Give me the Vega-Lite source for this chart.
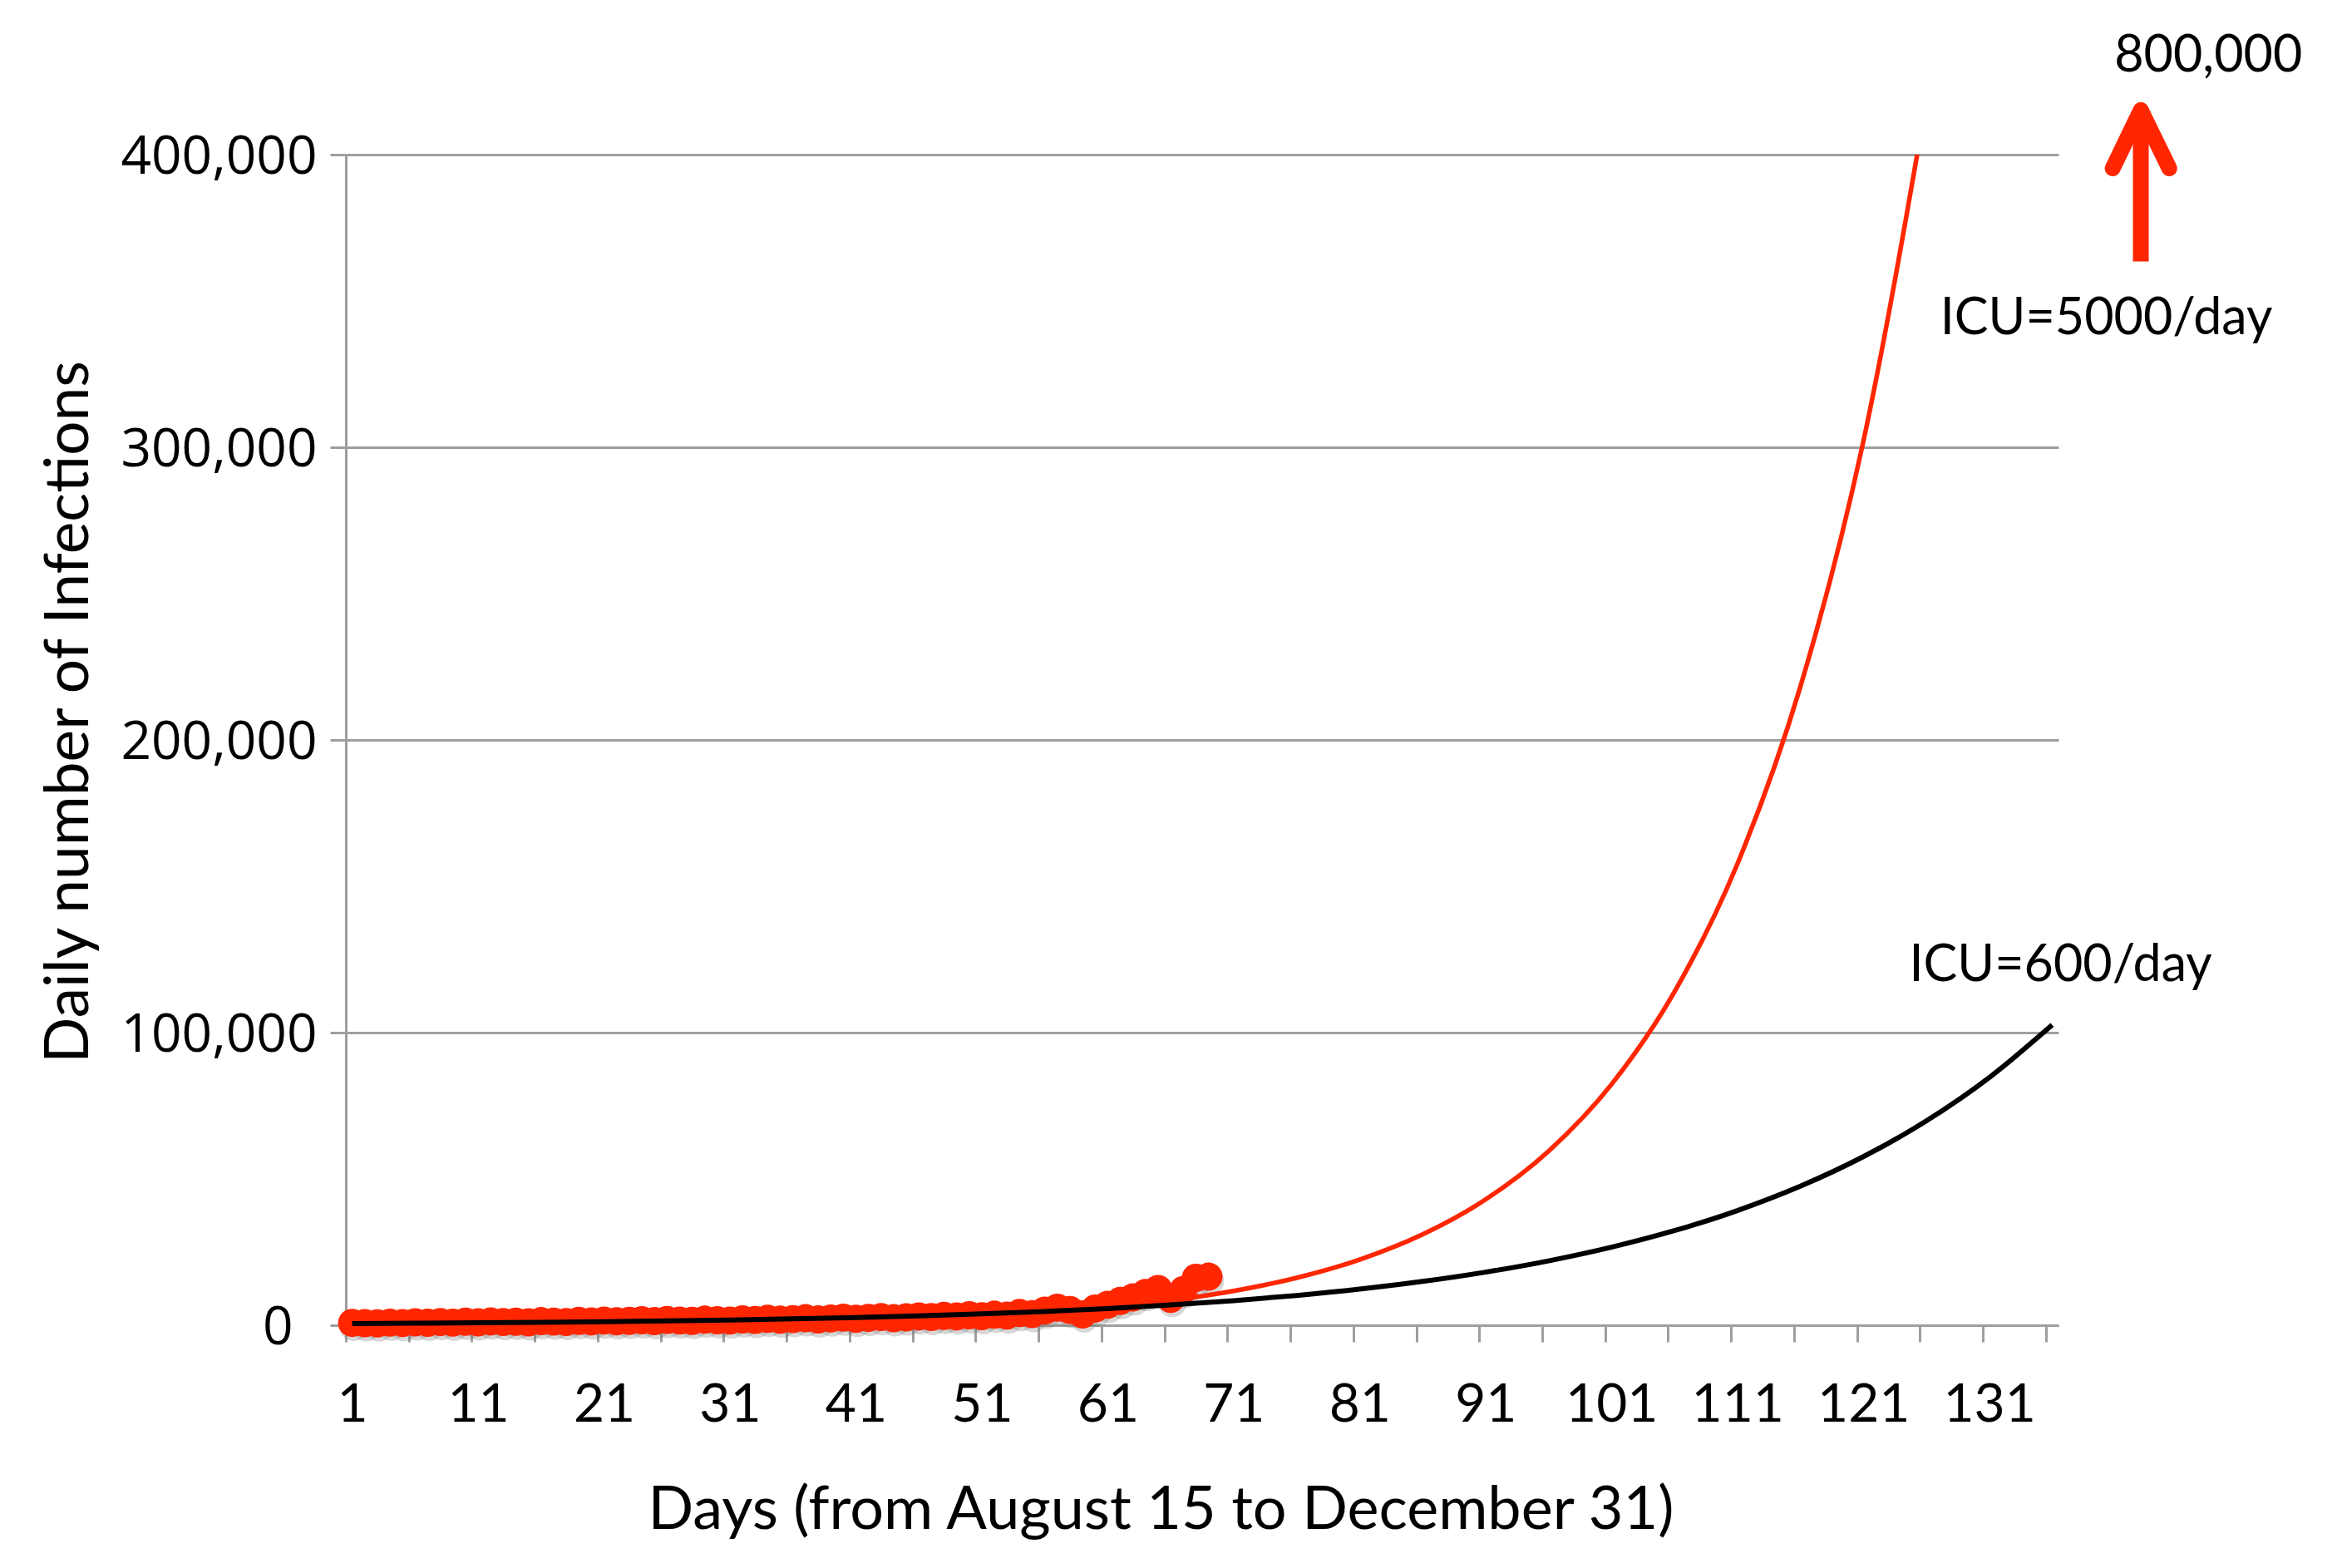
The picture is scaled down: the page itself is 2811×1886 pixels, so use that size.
{
  "$schema": "https://vega.github.io/schema/vega-lite/v6.json",
  "width": 2060,
  "height": 1408,
  "autosize": {"type": "none"},
  "padding": {"left": 416, "top": 186, "right": 335, "bottom": 292},
  "background": "white",
  "config": {"view": {"stroke": null}},
  "datasets": {
    "observed": [
      {"day": 1, "infections": 800}, {"day": 2, "infections": 700}, {"day": 3, "infections": 650},
      {"day": 4, "infections": 900}, {"day": 5, "infections": 750}, {"day": 6, "infections": 1000},
      {"day": 7, "infections": 850}, {"day": 8, "infections": 1100}, {"day": 9, "infections": 900},
      {"day": 10, "infections": 1200}, {"day": 11, "infections": 1000}, {"day": 12, "infections": 1300},
      {"day": 13, "infections": 1100}, {"day": 14, "infections": 1200}, {"day": 15, "infections": 1000},
      {"day": 16, "infections": 1400}, {"day": 17, "infections": 1250}, {"day": 18, "infections": 1100},
      {"day": 19, "infections": 1500}, {"day": 20, "infections": 1300}, {"day": 21, "infections": 1600},
      {"day": 22, "infections": 1350}, {"day": 23, "infections": 1500}, {"day": 24, "infections": 1700},
      {"day": 25, "infections": 1400}, {"day": 26, "infections": 1800}, {"day": 27, "infections": 1600},
      {"day": 28, "infections": 1500}, {"day": 29, "infections": 1900}, {"day": 30, "infections": 1700},
      {"day": 31, "infections": 1600}, {"day": 32, "infections": 2000}, {"day": 33, "infections": 1800},
      {"day": 34, "infections": 2200}, {"day": 35, "infections": 1900}, {"day": 36, "infections": 2100},
      {"day": 37, "infections": 2400}, {"day": 38, "infections": 2000}, {"day": 39, "infections": 2300},
      {"day": 40, "infections": 2600}, {"day": 41, "infections": 2200}, {"day": 42, "infections": 2500},
      {"day": 43, "infections": 2800}, {"day": 44, "infections": 2400}, {"day": 45, "infections": 2700},
      {"day": 46, "infections": 3000}, {"day": 47, "infections": 2800}, {"day": 48, "infections": 3200},
      {"day": 49, "infections": 3000}, {"day": 50, "infections": 3400}, {"day": 51, "infections": 3100},
      {"day": 52, "infections": 3600}, {"day": 53, "infections": 3300}, {"day": 54, "infections": 4200},
      {"day": 55, "infections": 3800}, {"day": 56, "infections": 5000}, {"day": 57, "infections": 6000},
      {"day": 58, "infections": 5200}, {"day": 59, "infections": 3700}, {"day": 60, "infections": 5700},
      {"day": 61, "infections": 7000}, {"day": 62, "infections": 8300}, {"day": 63, "infections": 9500},
      {"day": 64, "infections": 11000}, {"day": 65, "infections": 12400}, {"day": 66, "infections": 9000},
      {"day": 67, "infections": 12000}, {"day": 68, "infections": 16200}, {"day": 69, "infections": 16600}
    ],
    "icu5000": [
      {"day": 1, "infections": 124}, {"day": 6, "infections": 171}, {"day": 11, "infections": 237},
      {"day": 16, "infections": 328}, {"day": 21, "infections": 454}, {"day": 26, "infections": 628},
      {"day": 31, "infections": 870}, {"day": 36, "infections": 1203}, {"day": 41, "infections": 1665},
      {"day": 46, "infections": 2305}, {"day": 51, "infections": 3191}, {"day": 56, "infections": 4416},
      {"day": 61, "infections": 6111}, {"day": 66, "infections": 8459}, {"day": 71, "infections": 11707},
      {"day": 76, "infections": 16203}, {"day": 81, "infections": 22426}, {"day": 86, "infections": 31037},
      {"day": 91, "infections": 42956}, {"day": 96, "infections": 59452}, {"day": 101, "infections": 82284},
      {"day": 106, "infections": 113883}, {"day": 111, "infections": 157617}, {"day": 116, "infections": 218147},
      {"day": 121, "infections": 301921}, {"day": 126, "infections": 417870}
    ],
    "icu600": [
      {"day": 1, "infections": 567}, {"day": 6, "infections": 688}, {"day": 11, "infections": 834},
      {"day": 16, "infections": 1011}, {"day": 21, "infections": 1225}, {"day": 26, "infections": 1485},
      {"day": 31, "infections": 1801}, {"day": 36, "infections": 2183}, {"day": 41, "infections": 2647},
      {"day": 46, "infections": 3208}, {"day": 51, "infections": 3889}, {"day": 56, "infections": 4715},
      {"day": 61, "infections": 5716}, {"day": 66, "infections": 6929}, {"day": 71, "infections": 8399},
      {"day": 76, "infections": 10184}, {"day": 81, "infections": 12344}, {"day": 86, "infections": 14965},
      {"day": 91, "infections": 18144}, {"day": 96, "infections": 21995}, {"day": 101, "infections": 26665},
      {"day": 106, "infections": 32325}, {"day": 111, "infections": 39188}, {"day": 116, "infections": 47505},
      {"day": 121, "infections": 57589}, {"day": 126, "infections": 69814}, {"day": 131, "infections": 84634},
      {"day": 136, "infections": 102600}
    ],
    "labels": [
      {"day": 148.4, "infections": 428300, "label": "800,000"},
      {"day": 140.3, "infections": 338700, "label": "ICU=5000/day"},
      {"day": 136.67, "infections": 117600, "label": "ICU=600/day"}
    ],
    "arrowShaft": [
      {"day": 143.04, "infections": 363500, "day2": 143.04, "infections2": 412000}
    ],
    "arrowHead": [
      {"day": 143.04, "infections": 415200, "day2": 140.8, "infections2": 395300},
      {"day": 143.04, "infections": 415200, "day2": 145.3, "infections2": 395300}
    ]
  },
  "encoding": {
    "x": {
      "field": "day",
      "type": "quantitative",
      "scale": {"domain": [0.5, 136.5], "nice": false, "zero": false},
      "axis": {
        "values": [0.5, 1, 5.5, 10.5, 11, 15.5, 20.5, 21, 25.5, 30.5, 31, 35.5, 40.5, 41, 45.5, 50.5, 51, 55.5, 60.5, 61, 65.5, 70.5, 71, 75.5, 80.5, 81, 85.5, 90.5, 91, 95.5, 100.5, 101, 105.5, 110.5, 111, 115.5, 120.5, 121, 125.5, 130.5, 131, 135.5],
        "format": "d",
        "labelExpr": "datum.value % 1 == 0 ? datum.label : ''",
        "tickOpacity": {"condition": {"test": "datum.value % 1 == 0", "value": 0}, "value": 1},
        "labelFont": "Lato",
        "labelFontSize": 64,
        "labelColor": "#000000",
        "labelPadding": 44,
        "labelOverlap": false,
        "labelFlush": false,
        "labelBound": false,
        "labelLimit": 0,
        "tickSize": 20,
        "tickWidth": 3,
        "tickColor": "#9E9E9E",
        "domainColor": "#9E9E9E",
        "domainWidth": 3,
        "grid": false,
        "title": "Days (from August 15 to December 31)",
        "titleFont": "Lato",
        "titleFontSize": 72,
        "titleFontWeight": "normal",
        "titleColor": "#000000",
        "titleLimit": 0,
        "titleX": 980,
        "titleY": 244,
        "titleAlign": "center",
        "titleBaseline": "alphabetic"
      }
    },
    "y": {
      "field": "infections",
      "type": "quantitative",
      "scale": {"domain": [0, 400000], "nice": false, "zero": true},
      "axis": {
        "values": [0, 100000, 200000, 300000, 400000],
        "format": ",d",
        "labelFont": "Open Sans",
        "labelFontSize": 64,
        "labelColor": "#000000",
        "labelLimit": 0,
        "labelPadding": {"condition": {"test": "datum.value == 0", "value": 45}, "value": 16},
        "labelOffset": 3,
        "tickSize": 19,
        "tickWidth": 3,
        "tickColor": "#9E9E9E",
        "domainColor": "#9E9E9E",
        "domainWidth": 3,
        "grid": true,
        "gridColor": "#9E9E9E",
        "gridWidth": 3,
        "title": "Daily number of Infections",
        "titleFont": "Lato",
        "titleFontSize": 73,
        "titleFontWeight": "normal",
        "titleColor": "#000000",
        "titleLimit": 0,
        "titleAngle": -90,
        "titleX": -311,
        "titleY": 670,
        "titleAlign": "center",
        "titleBaseline": "alphabetic"
      }
    }
  },
  "layer": [
    {
      "data": {"name": "observed"},
      "mark": {"type": "point", "shape": "circle", "filled": true, "size": 1150, "color": "#7A7A7A", "opacity": 0.3, "xOffset": 2, "yOffset": 5}
    },
    {
      "data": {"name": "observed"},
      "mark": {"type": "point", "shape": "circle", "filled": true, "size": 1150, "color": "#FF2600", "opacity": 1}
    },
    {
      "data": {"name": "icu5000"},
      "mark": {"type": "line", "color": "#FF2600", "strokeWidth": 5.5, "interpolate": "monotone", "clip": true}
    },
    {
      "data": {"name": "icu600"},
      "mark": {"type": "line", "color": "#000000", "strokeWidth": 6, "interpolate": "monotone"}
    },
    {
      "data": {"name": "arrowShaft"},
      "mark": {"type": "rule", "color": "#FF2600", "strokeWidth": 19, "strokeCap": "butt"},
      "encoding": {"x2": {"field": "day2"}, "y2": {"field": "infections2"}}
    },
    {
      "data": {"name": "arrowHead"},
      "mark": {"type": "rule", "color": "#FF2600", "strokeWidth": 19, "strokeCap": "round"},
      "encoding": {"x2": {"field": "day2"}, "y2": {"field": "infections2"}}
    },
    {
      "data": {"name": "labels"},
      "mark": {"type": "text", "font": "Lato", "fontSize": 61, "color": "#000000", "align": "center", "baseline": "alphabetic"},
      "encoding": {"text": {"field": "label", "type": "nominal"}}
    }
  ]
}
